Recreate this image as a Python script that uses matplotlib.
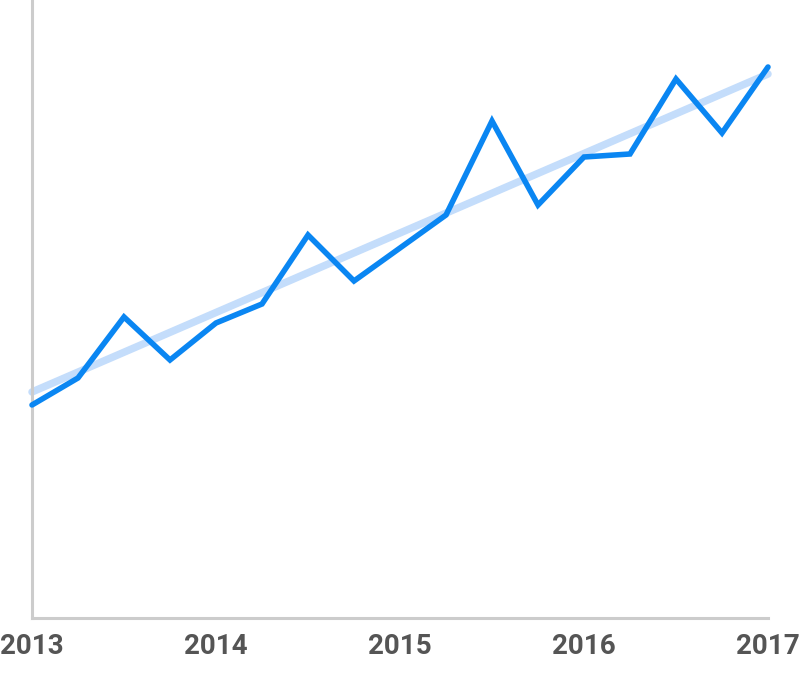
import matplotlib.pyplot as plt

# quarterly observations, 2013 - 2017
quarters = [2013.0, 2013.25, 2013.5, 2013.75, 2014.0, 2014.25, 2014.5, 2014.75,
            2015.0, 2015.25, 2015.5, 2015.75, 2016.0, 2016.25, 2016.5, 2016.75, 2017.0]
values = [213, 240, 301, 258, 295, 314, 383, 337, 370, 403, 497, 413, 461, 464, 539, 485, 551]

# straight trend line end points
trend_x = [2013.0, 2017.0]
trend_y = [226, 544]

year_ticks = [2013, 2014, 2015, 2016, 2017]
year_labels = ['2013', '2014', '2015', '2016', '2017']

fig = plt.figure(figsize=(8, 6.79), dpi=100)
ax = fig.add_axes([0.04, 0.0899, 0.92, 0.9101])

ax.plot(trend_x, trend_y, color='#c4ddfb', lw=5.4, solid_capstyle='round', clip_on=False, zorder=2)
ax.plot(quarters, values, color='#0a86f2', lw=4.0, solid_capstyle='round',
        solid_joinstyle='miter', clip_on=False, zorder=3)

ax.set_xlim(2013, 2017)
ax.set_ylim(0, 618)

for side in ['top', 'right']:
    ax.spines[side].set_visible(False)
for side in ['left', 'bottom']:
    ax.spines[side].set_color('#cccccc')
    ax.spines[side].set_linewidth(2.2)

ax.set_yticks([])
ax.set_xticks(year_ticks)
ax.set_xticklabels(year_labels, fontfamily='Roboto', fontweight='bold', fontsize=20, color='#555555')
ax.tick_params(axis='x', length=0, pad=11)

fig.savefig('out.png', dpi=100)
